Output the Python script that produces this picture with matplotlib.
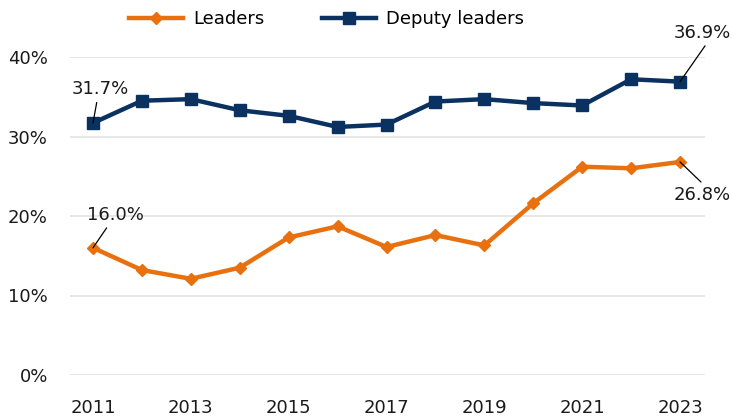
import numpy as np
import matplotlib.pyplot as plt

plt.rcParams['font.family'] = ['DejaVu Sans']

years = [2011, 2012, 2013, 2014, 2015, 2016, 2017, 2018, 2019, 2020, 2021, 2022, 2023]
leaders = [16.0, 13.2, 12.1, 13.5, 17.3, 18.7, 16.1, 17.6, 16.3, 21.6, 26.2, 26.0, 26.8]
deputy = [31.7, 34.5, 34.7, 33.3, 32.6, 31.2, 31.5, 34.4, 34.7, 34.2, 33.9, 37.2, 36.9]

orange = '#E8700F'
navy = '#0A315F'

fig = plt.figure(figsize=(7.32, 4.18), dpi=100)
ax = fig.add_axes([70/732, 1-375/418, 635/732, 318/418])

ax.plot(years, leaders, color=orange, lw=3.2, marker='D', ms=6.5, label='Leaders')
ax.plot(years, deputy, color=navy, lw=3.2, marker='s', ms=8.5, label='Deputy leaders')

ax.set_xlim(2010.53, 2023.51)
ax.set_ylim(0, 40)
ax.set_yticks([0, 10, 20, 30, 40])
ax.set_yticklabels(['0%', '10%', '20%', '30%', '40%'])
ax.set_xticks([2011, 2013, 2015, 2017, 2019, 2021, 2023])
ax.tick_params(length=0, labelsize=13, colors='#1a1a1a')
ax.tick_params(axis='x', pad=17)
ax.tick_params(axis='y', pad=16)
ax.grid(axis='y', color='#e3e3e3', lw=1.2)
ax.set_axisbelow(True)
for s in ax.spines.values():
    s.set_visible(False)

# data labels with thin leader lines
def label(x, y, txt, tx, ty, va, rel):
    ax.annotate(txt, xy=(x, y), xytext=(tx, ty), ha='center', va=va,
                fontsize=13, color='#1a1a1a', annotation_clip=False,
                arrowprops=dict(arrowstyle='-', color='black', lw=0.9,
                                shrinkA=1, shrinkB=0, relpos=rel))

label(years[0], deputy[0], f'{deputy[0]:.1f}%', years[0] + 0.15, 34.8, 'bottom', (0.45, 0))
label(years[0], leaders[0], f'{leaders[0]:.1f}%', years[0] + 0.45, 19.0, 'bottom', (0.4, 0))
label(years[-1], deputy[-1], f'{deputy[-1]:.1f}%', years[-1] + 0.45, 41.9, 'bottom', (0.6, 0))
label(years[-1], leaders[-1], f'{leaders[-1]:.1f}%', years[-1] + 0.45, 23.8, 'top', (0.55, 1))

fig.legend(loc='upper center', bbox_to_anchor=(0.446, 1.015), ncol=2, frameon=False,
           fontsize=13, handlelength=3.0, handletextpad=0.55, columnspacing=3.2)

fig.savefig('out.png', dpi=100)
